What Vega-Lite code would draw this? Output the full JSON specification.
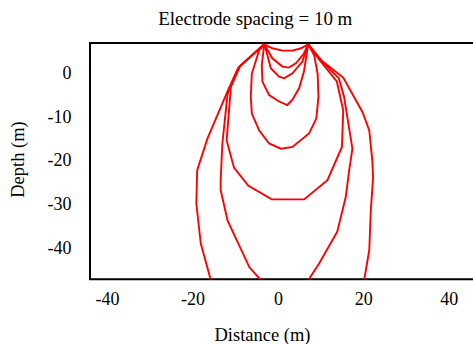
{
  "$schema": "https://vega.github.io/schema/vega-lite/v6.json",
  "width": 388.6,
  "height": 236.3,
  "autosize": {"type": "none"},
  "padding": {"left": 90, "top": 43, "right": 0, "bottom": 65},
  "background": "white",
  "title": {"text": "Electrode spacing = 10 m", "font": "Liberation Serif", "fontSize": 19, "fontWeight": "normal", "color": "black", "dx": -29, "offset": 14},
  "data": {"values": [
    {"curve": 1, "i": 1, "x": -3.2, "y": 6.7},
    {"curve": 1, "i": 2, "x": -1.3, "y": 5.8},
    {"curve": 1, "i": 3, "x": 1.05, "y": 5.25},
    {"curve": 1, "i": 4, "x": 3.4, "y": 5.25},
    {"curve": 1, "i": 5, "x": 5.4, "y": 5.8},
    {"curve": 1, "i": 6, "x": 7.1, "y": 6.7},

    {"curve": 2, "i": 1, "x": -3.2, "y": 6.7},
    {"curve": 2, "i": 2, "x": -1.3, "y": 3.5},
    {"curve": 2, "i": 3, "x": 1.05, "y": 1.6},
    {"curve": 2, "i": 4, "x": 2.6, "y": 1.37},
    {"curve": 2, "i": 5, "x": 4.2, "y": 2.36},
    {"curve": 2, "i": 6, "x": 6.1, "y": 4.6},
    {"curve": 2, "i": 7, "x": 7.1, "y": 6.7},

    {"curve": 3, "i": 1, "x": -3.2, "y": 6.7},
    {"curve": 3, "i": 2, "x": -2.46, "y": 4.26},
    {"curve": 3, "i": 3, "x": -1.67, "y": 1.21},
    {"curve": 3, "i": 4, "x": 0.28, "y": -0.69},
    {"curve": 3, "i": 5, "x": 1.45, "y": -1.08},
    {"curve": 3, "i": 6, "x": 3.4, "y": 0.07},
    {"curve": 3, "i": 7, "x": 5.74, "y": 2.75},
    {"curve": 3, "i": 8, "x": 7.1, "y": 6.7},

    {"curve": 4, "i": 1, "x": -3.2, "y": 6.7},
    {"curve": 4, "i": 2, "x": -3.77, "y": 1.97},
    {"curve": 4, "i": 3, "x": -3.63, "y": -1.83},
    {"curve": 4, "i": 4, "x": -2.06, "y": -4.9},
    {"curve": 4, "i": 5, "x": 0.28, "y": -6.4},
    {"curve": 4, "i": 6, "x": 2.2, "y": -7.2},
    {"curve": 4, "i": 7, "x": 3.4, "y": -6.0},
    {"curve": 4, "i": 8, "x": 4.96, "y": -3.36},
    {"curve": 4, "i": 9, "x": 6.1, "y": 0.46},
    {"curve": 4, "i": 10, "x": 7.1, "y": 6.7},

    {"curve": 5, "i": 1, "x": -3.2, "y": 6.7},
    {"curve": 5, "i": 2, "x": -4.4, "y": 5.3},
    {"curve": 5, "i": 3, "x": -6.1, "y": 0.0},
    {"curve": 5, "i": 4, "x": -6.35, "y": -5.35},
    {"curve": 5, "i": 5, "x": -6.1, "y": -9.15},
    {"curve": 5, "i": 6, "x": -4.4, "y": -13.0},
    {"curve": 5, "i": 7, "x": -2.06, "y": -16.0},
    {"curve": 5, "i": 8, "x": 0.67, "y": -17.2},
    {"curve": 5, "i": 9, "x": 3.4, "y": -16.8},
    {"curve": 5, "i": 10, "x": 7.3, "y": -13.7},
    {"curve": 5, "i": 11, "x": 9.0, "y": -10.3},
    {"curve": 5, "i": 12, "x": 9.5, "y": -5.35},
    {"curve": 5, "i": 13, "x": 9.3, "y": 0.0},
    {"curve": 5, "i": 14, "x": 8.5, "y": 4.2},
    {"curve": 5, "i": 15, "x": 7.1, "y": 6.7},

    {"curve": 6, "i": 1, "x": -3.2, "y": 6.7},
    {"curve": 6, "i": 2, "x": -8.8, "y": 1.8},
    {"curve": 6, "i": 3, "x": -11.0, "y": -3.0},
    {"curve": 6, "i": 4, "x": -12.0, "y": -15.3},
    {"curve": 6, "i": 5, "x": -10.26, "y": -21.6},
    {"curve": 6, "i": 6, "x": -6.9, "y": -25.7},
    {"curve": 6, "i": 7, "x": -1.43, "y": -28.8},
    {"curve": 6, "i": 8, "x": 6.14, "y": -28.8},
    {"curve": 6, "i": 9, "x": 11.6, "y": -24.4},
    {"curve": 6, "i": 10, "x": 15.0, "y": -16.8},
    {"curve": 6, "i": 11, "x": 15.3, "y": -8.4},
    {"curve": 6, "i": 12, "x": 13.8, "y": -1.8},
    {"curve": 6, "i": 13, "x": 9.5, "y": 3.4},
    {"curve": 6, "i": 14, "x": 7.1, "y": 6.7},

    {"curve": 7, "i": 1, "x": -3.2, "y": 6.7},
    {"curve": 7, "i": 2, "x": -9.0, "y": 1.6},
    {"curve": 7, "i": 3, "x": -11.3, "y": -3.4},
    {"curve": 7, "i": 4, "x": -11.8, "y": -4.8},
    {"curve": 7, "i": 5, "x": -13.0, "y": -16.0},
    {"curve": 7, "i": 6, "x": -13.4, "y": -24.4},
    {"curve": 7, "i": 7, "x": -13.4, "y": -26.7},
    {"curve": 7, "i": 8, "x": -11.8, "y": -33.6},
    {"curve": 7, "i": 9, "x": -6.7, "y": -44.3},
    {"curve": 7, "i": 10, "x": -4.0, "y": -47.3},
    {"curve": 7, "i": 11, "x": -1.6, "y": -50.0},
    {"curve": 7, "i": 12, "x": 5.3, "y": -50.0},
    {"curve": 7, "i": 13, "x": 7.1, "y": -47.3},
    {"curve": 7, "i": 14, "x": 9.65, "y": -43.5},
    {"curve": 7, "i": 15, "x": 13.9, "y": -36.2},
    {"curve": 7, "i": 16, "x": 15.9, "y": -28.2},
    {"curve": 7, "i": 17, "x": 16.7, "y": -22.1},
    {"curve": 7, "i": 18, "x": 17.45, "y": -17.2},
    {"curve": 7, "i": 19, "x": 15.5, "y": -5.35},
    {"curve": 7, "i": 20, "x": 14.3, "y": -1.1},
    {"curve": 7, "i": 21, "x": 10.0, "y": 3.1},
    {"curve": 7, "i": 22, "x": 7.1, "y": 6.7},

    {"curve": 8, "i": 1, "x": -3.2, "y": 6.7},
    {"curve": 8, "i": 2, "x": -9.3, "y": 1.3},
    {"curve": 8, "i": 3, "x": -11.6, "y": -3.6},
    {"curve": 8, "i": 4, "x": -16.5, "y": -14.9},
    {"curve": 8, "i": 5, "x": -18.9, "y": -22.1},
    {"curve": 8, "i": 6, "x": -19.1, "y": -29.7},
    {"curve": 8, "i": 7, "x": -18.06, "y": -38.9},
    {"curve": 8, "i": 8, "x": -15.7, "y": -47.3},
    {"curve": 8, "i": 9, "x": -15.0, "y": -50.0},
    {"curve": 8, "i": 10, "x": 19.8, "y": -50.0},
    {"curve": 8, "i": 11, "x": 20.2, "y": -47.3},
    {"curve": 8, "i": 12, "x": 21.4, "y": -40.4},
    {"curve": 8, "i": 13, "x": 21.76, "y": -31.3},
    {"curve": 8, "i": 14, "x": 22.3, "y": -23.7},
    {"curve": 8, "i": 15, "x": 22.1, "y": -19.8},
    {"curve": 8, "i": 16, "x": 21.4, "y": -13.0},
    {"curve": 8, "i": 17, "x": 19.8, "y": -8.8},
    {"curve": 8, "i": 18, "x": 15.3, "y": -0.9},
    {"curve": 8, "i": 19, "x": 10.2, "y": 3.0},
    {"curve": 8, "i": 20, "x": 7.1, "y": 6.7}
  ]},
  "mark": {"type": "line", "color": "#ff0000", "strokeWidth": 1.9, "clip": true},
  "encoding": {
    "x": {
      "field": "x", "type": "quantitative",
      "scale": {"domain": [-44, 47], "nice": false, "zero": false},
      "axis": {"values": [-40, -20, 0, 20, 40], "labelExpr": "toString(datum.value)", "title": "Distance (m)", "labelPadding": 11, "titleX": 172, "titleY": 55, "titleBaseline": "middle"}
    },
    "y": {
      "field": "y", "type": "quantitative",
      "scale": {"domain": [-47.1, 7], "nice": false, "zero": false},
      "axis": {"values": [-40, -30, -20, -10, 0], "labelExpr": "toString(datum.value)", "title": "Depth (m)", "labelPadding": 19, "titleX": -72, "titleY": 116, "titleBaseline": "middle", "titleAngle": -90}
    },
    "detail": {"field": "curve", "type": "nominal"},
    "order": {"field": "i", "type": "quantitative"}
  },
  "config": {
    "view": {"stroke": "black", "strokeWidth": 2},
    "axis": {
      "grid": false, "ticks": false, "domain": false,
      "labelFont": "Liberation Serif", "labelFontSize": 18, "labelColor": "black",
      "titleFont": "Liberation Serif", "titleFontSize": 18.5, "titleFontWeight": "normal", "titleColor": "black"
    }
  }
}
